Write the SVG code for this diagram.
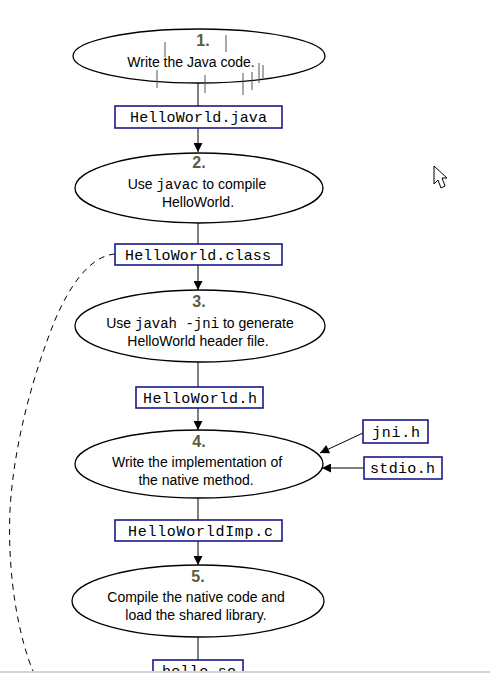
<svg xmlns="http://www.w3.org/2000/svg" width="490" height="673" viewBox="0 0 490 673">
<defs>
<marker id="arr" viewBox="0 0 10 10" refX="10" refY="5" markerWidth="12" markerHeight="9" markerUnits="userSpaceOnUse" orient="auto">
<path d="M0,0 L10,5 L0,10 Z" fill="#000"/>
</marker>
</defs>
<style>
.ell{fill:#fff;stroke:#000;stroke-width:1.3}
.box{fill:#fff;stroke:#1a1a8c;stroke-width:1.6}
.num{font-family:"Liberation Sans",Arial,sans-serif;font-weight:bold;font-size:16px;fill:#5c5c40;text-anchor:middle}
.lbl{font-family:"Liberation Sans",Arial,sans-serif;font-size:14px;fill:#000;text-anchor:middle}
.mono{font-family:"Liberation Mono","DejaVu Sans Mono",monospace}
.file{font-family:"Liberation Mono","DejaVu Sans Mono",monospace;font-size:15px;fill:#000}
.ln{stroke:#000;stroke-width:1;fill:none}
.tick{stroke:#555;stroke-width:1}
</style>
<rect x="0" y="0" width="490" height="673" fill="#fff"/>

<g id="connectors">
<line class="ln" x1="198" y1="83" x2="198" y2="106"/>
<line class="ln" x1="198" y1="128" x2="198" y2="152" marker-end="url(#arr)"/>
<line class="ln" x1="198" y1="222" x2="198" y2="244"/>
<line class="ln" x1="198" y1="265" x2="198" y2="290" marker-end="url(#arr)"/>
<line class="ln" x1="198" y1="362" x2="198" y2="387"/>
<line class="ln" x1="198" y1="408" x2="198" y2="430" marker-end="url(#arr)"/>
<line class="ln" x1="363" y1="433" x2="320" y2="453" marker-end="url(#arr)"/>
<line class="ln" x1="364" y1="468" x2="322" y2="468" marker-end="url(#arr)"/>
<line class="ln" x1="198" y1="498" x2="198" y2="520"/>
<line class="ln" x1="198" y1="541" x2="198" y2="565" marker-end="url(#arr)"/>
<line class="ln" x1="198" y1="637" x2="198" y2="660"/>
<path class="ln" d="M115,254 C90,256 70,285 55,320 C35,370 14,440 10,510 C7,580 20,640 33,671" stroke-dasharray="6,5"/>
</g>

<g id="step1">
<ellipse class="ell" cx="199" cy="56" rx="126" ry="27"/>
<text class="num" x="203" y="46">1.</text>
<text class="lbl" x="191" y="67">Write the Java code.</text>
<line class="tick" x1="165" y1="42" x2="165" y2="57"/>
<line class="tick" x1="226" y1="35" x2="226" y2="52"/>
<line class="tick" x1="157" y1="70" x2="157" y2="88"/>
<line class="tick" x1="205" y1="75" x2="205" y2="93"/>
<line class="tick" x1="243" y1="73" x2="243" y2="95"/>
<line class="tick" x1="252" y1="72" x2="252" y2="90"/>
<line class="tick" x1="259" y1="63" x2="259" y2="83"/>
<line class="tick" x1="263" y1="65" x2="263" y2="78"/>
</g>
<g id="HelloWorld.java">
<rect class="box" x="115" y="106" width="167" height="22"/>
<text class="file" x="130" y="122" textLength="137" lengthAdjust="spacing">HelloWorld.java</text>
</g>

<g id="step2">
<ellipse class="ell" cx="199" cy="188" rx="124" ry="35"/>
<text class="num" x="199" y="168">2.</text>
<text class="lbl" x="197" y="189">Use <tspan class="mono">javac</tspan> to compile</text>
<text class="lbl" x="198" y="207">HelloWorld.</text>
</g>
<g id="HelloWorld.class">
<rect class="box" x="115" y="244" width="167" height="21"/>
<text class="file" x="125" y="260" textLength="146" lengthAdjust="spacing">HelloWorld.class</text>
</g>

<g id="step3">
<ellipse class="ell" cx="200" cy="326" rx="125" ry="36"/>
<text class="num" x="199" y="307">3.</text>
<text class="lbl" x="200" y="328">Use <tspan class="mono">javah -jni</tspan> to generate</text>
<text class="lbl" x="198" y="346">HelloWorld header file.</text>
</g>
<g id="HelloWorld.h">
<rect class="box" x="136" y="387" width="127" height="21"/>
<text class="file" x="143" y="403" textLength="114" lengthAdjust="spacing">HelloWorld.h</text>
</g>

<g id="step4">
<ellipse class="ell" cx="199" cy="464" rx="124" ry="34"/>
<text class="num" x="199" y="447">4.</text>
<text class="lbl" x="197" y="467">Write the implementation of</text>
<text class="lbl" x="196" y="485">the native method.</text>
</g>
<g id="jni.h">
<rect class="box" x="363" y="420" width="65" height="23"/>
<text class="file" x="372" y="437" textLength="48" lengthAdjust="spacing">jni.h</text>
</g>
<g id="stdio.h">
<rect class="box" x="364" y="457" width="78" height="22"/>
<text class="file" x="370" y="473" textLength="65" lengthAdjust="spacing">stdio.h</text>
</g>
<g id="HelloWorldImp.c">
<rect class="box" x="115" y="520" width="167" height="21"/>
<text class="file" x="128" y="536" textLength="145" lengthAdjust="spacing">HelloWorldImp.c</text>
</g>

<g id="step5">
<ellipse class="ell" cx="198" cy="601" rx="126" ry="36"/>
<text class="num" x="198" y="582">5.</text>
<text class="lbl" x="196" y="602">Compile the native code and</text>
<text class="lbl" x="196" y="620">load the shared library.</text>
</g>
<g id="hello.so">
<rect class="box" x="153" y="660" width="90" height="16"/>
<text class="file" x="162" y="676" textLength="74" lengthAdjust="spacing">hello.so</text>
</g>

<rect x="0" y="671" width="490" height="2" fill="#d4d4d4"/>
<polygon points="434,166 434,184 438,180 441,188 445,186 442,178 447,178" fill="#fff" stroke="#000" stroke-width="1"/>
</svg>
